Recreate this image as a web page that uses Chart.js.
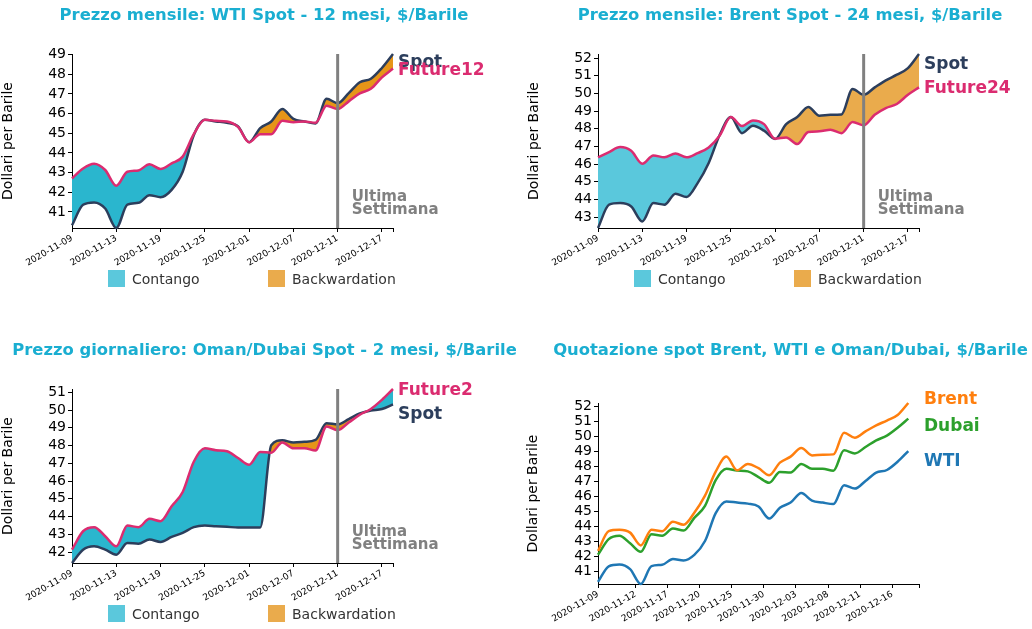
<!DOCTYPE html>
<html>
<head>
<meta charset="utf-8">
<script src="https://cdn.jsdelivr.net/npm/chart.js@4.4.0/dist/chart.umd.min.js"></script>
<style>
  body { margin: 0; background: #fff; width: 1032px; height: 629px; position: relative; overflow: hidden; }
  canvas { position: absolute; }
</style>
</head>
<body>
<canvas id="wti" width="516" height="315" style="left:0;top:0"></canvas>
<canvas id="brent" width="516" height="315" style="left:516px;top:0"></canvas>
<canvas id="oman" width="516" height="315" style="left:0;top:315px"></canvas>
<canvas id="spot" width="516" height="315" style="left:516px;top:315px"></canvas>
<script>
// trading days shown on the x axis
const dates = ['2020-11-09','2020-11-10','2020-11-11','2020-11-12','2020-11-13','2020-11-16','2020-11-17','2020-11-18','2020-11-19','2020-11-20',
  '2020-11-23','2020-11-24','2020-11-25','2020-11-26','2020-11-27','2020-11-30','2020-12-01','2020-12-02','2020-12-03','2020-12-04',
  '2020-12-07','2020-12-08','2020-12-09','2020-12-10','2020-12-11','2020-12-14','2020-12-15','2020-12-16','2020-12-17','2020-12-18'];

// $/barile
const wtiSpot   = [40.32, 41.36, 41.48, 41.17, 40.18, 41.37, 41.46, 41.85, 41.75, 42.12, 43.04, 44.90, 45.68, 45.60, 45.53,
                   45.34, 44.54, 45.26, 45.60, 46.23, 45.73, 45.60, 45.50, 46.75, 46.53, 47.04, 47.59, 47.77, 48.32, 49.03];
const wtiFut12  = [42.70, 43.21, 43.45, 43.13, 42.33, 43.04, 43.11, 43.42, 43.18, 43.47, 43.81, 44.95, 45.68, 45.63, 45.60,
                   45.32, 44.54, 44.95, 44.95, 45.63, 45.56, 45.60, 45.53, 46.40, 46.23, 46.62, 47.03, 47.26, 47.84, 48.29];
const brentSpot = [42.38, 43.70, 43.79, 43.60, 42.75, 43.79, 43.70, 44.32, 44.13, 44.92, 46.06, 47.66, 48.66, 47.75, 48.17,
                   47.89, 47.42, 48.26, 48.66, 49.23, 48.74, 48.79, 48.81, 50.25, 49.92, 50.34, 50.74, 51.06, 51.43, 52.23];
const brentFut24 = [46.38, 46.68, 46.96, 46.75, 46.02, 46.49, 46.38, 46.60, 46.38, 46.62, 46.94, 47.62, 48.66, 48.15, 48.47,
                    48.26, 47.43, 47.51, 47.13, 47.81, 47.85, 47.94, 47.75, 48.38, 48.19, 48.79, 49.17, 49.40, 49.92, 50.34];
const omanSpot  = [41.38, 42.13, 42.32, 42.13, 41.85, 42.51, 42.47, 42.70, 42.57, 42.85, 43.08, 43.40, 43.49, 43.45, 43.42,
                   43.38, 43.38, 43.38, 48.02, 48.30, 48.17, 48.21, 48.32, 49.26, 49.19, 49.49, 49.81, 49.98, 50.06, 50.32];
const omanFut2  = [42.13, 43.17, 43.40, 42.89, 42.32, 43.49, 43.40, 43.87, 43.74, 44.58, 45.38, 47.09, 47.85, 47.74, 47.68,
                   47.30, 46.92, 47.64, 47.60, 48.17, 47.85, 47.85, 47.72, 49.08, 48.87, 49.30, 49.74, 50.06, 50.58, 51.19];

// tick labels (index into dates)
const monthlyTicks = [0, 4, 8, 12, 16, 20, 24, 28];
const spotTicks = [0, 3, 6, 9, 12, 15, 18, 21, 24, 27];
const lastWeek = '2020-12-11';
const legendNames = ['Contango', 'Backwardation'];

const NAVY = '#2c3e5c', PINK = '#db2c70', TITLE = '#1aaed1';
Chart.defaults.font.family = '"DejaVu Sans", sans-serif';

const pts = arr => arr.map((v, i) => ({ x: i, y: v }));

const decor = {
  id: 'decor',
  afterDatasetsDraw(chart, args, o) {
    const { ctx, chartArea: a, scales: { x, y } } = chart;
    ctx.save();
    if (o.vline) {
      const px = x.getPixelForValue(dates.indexOf(o.vline));
      ctx.strokeStyle = '#808080'; ctx.lineWidth = 3;
      ctx.beginPath(); ctx.moveTo(px, a.top); ctx.lineTo(px, a.bottom); ctx.stroke();
      ctx.fillStyle = '#808080'; ctx.font = 'bold 15px "DejaVu Sans"'; ctx.textAlign = 'left';
      ctx.fillText('Ultima', px + 14, a.bottom - 27);
      ctx.fillText('Settimana', px + 14, a.bottom - 14.5);
    }
    ctx.font = 'bold 17px "DejaVu Sans"'; ctx.textAlign = 'left'; ctx.textBaseline = 'alphabetic';
    chart.data.datasets.forEach(ds => {
      const last = ds.data[ds.data.length - 1];
      ctx.fillStyle = ds.borderColor;
      ctx.fillText(ds.label, a.right + 5, y.getPixelForValue(last.y) + ds.tagDy + 6);
    });
    ctx.restore();
  },
  afterDraw(chart, args, o) {
    const { ctx, chartArea: a } = chart;
    ctx.save();
    ctx.font = 'bold 16.4px "DejaVu Sans"'; ctx.fillStyle = TITLE; ctx.textAlign = 'center';
    ctx.fillText(o.title, o.titleX, o.titleY);
    if (o.legend) {
      ctx.font = '14px "DejaVu Sans"'; ctx.textAlign = 'left';
      legendNames.forEach((name, i) => {
        const bx = a.left + [36, 196][i];
        ctx.fillStyle = o.legend[i];
        ctx.fillRect(bx, o.legendY - 8.5, 17, 17);
        ctx.fillStyle = '#333';
        ctx.fillText(name, bx + 24, o.legendY + 5);
      });
    }
    ctx.restore();
  }
};

function makeChart(id, cfg) {
  const W = 516, H = 315;
  const all = cfg.series.flatMap(s => s.values);
  const datasets = cfg.series.map((s, i) => ({
    label: s.label,
    data: pts(s.values),
    borderColor: s.color,
    borderWidth: 2.5,
    pointRadius: 0,
    cubicInterpolationMode: 'monotone',
    clip: false,
    order: s.order ?? i,
    fill: s.fill || false,
    tagDy: s.tagDy
  }));
  return new Chart(document.getElementById(id), {
    type: 'line',
    data: { datasets },
    options: {
      responsive: false,
      animation: false,
      layout: { padding: { left: cfg.padL, right: W - cfg.R, top: cfg.T, bottom: 0 } },
      plugins: {
        legend: { display: false },
        tooltip: { enabled: false },
        decor: { title: cfg.title, titleX: cfg.titleX, titleY: cfg.titleY, vline: cfg.vline,
                 legend: cfg.legend, legendY: cfg.legendY }
      },
      scales: {
        x: {
          type: 'linear', min: 0, max: cfg.xMax,
          afterBuildTicks(s) { s.ticks = cfg.tickPos.map(v => ({ value: v })); },
          ticks: {
            autoSkip: false, minRotation: 30, maxRotation: 30, padding: 1, color: '#000',
            font: { size: 9 },
            callback: (v, k) => cfg.tickLabels[k] || ''
          },
          grid: { drawOnChartArea: false, tickLength: 4, tickColor: '#000' },
          border: { color: '#000' },
          afterFit(s) { s.height = H - cfg.B; }
        },
        y: {
          min: Math.min(...all), max: Math.max(...all),
          afterBuildTicks(s) { s.ticks = s.ticks.filter(t => Number.isInteger(t.value)); },
          ticks: { stepSize: 1, includeBounds: false, autoSkip: false, padding: 2, color: '#000', font: { size: 14 } },
          grid: { drawOnChartArea: false, tickLength: 4, tickColor: '#000' },
          border: { color: '#000' },
          title: { display: true, text: 'Dollari per Barile', color: '#000', font: { size: 14 }, padding: 0 },
          afterFit(s) { s.width = cfg.L - cfg.padL; }
        }
      }
    },
    plugins: [decor]
  });
}

const topTickPos = monthlyTicks.concat([dates.length - 1]);
const topTickLabels = monthlyTicks.map(i => dates[i]);

makeChart('wti', {
  title: 'Prezzo mensile: WTI Spot - 12 mesi, $/Barile', titleX: 264, titleY: 19.5,
  L: 72, R: 393, T: 54, B: 228, padL: 0, xMax: dates.length - 1,
  tickPos: topTickPos, tickLabels: topTickLabels, vline: lastWeek,
  legend: ['#5bc8dc', '#eaab4c'], legendY: 278.5,
  series: [
    { label: 'Spot', values: wtiSpot, color: NAVY, order: 1, tagDy: 7,
      fill: { target: 1, above: '#e69518', below: '#2ab6ce' } },
    { label: 'Future12', values: wtiFut12, color: PINK, order: 0, tagDy: 0 }
  ]
});

makeChart('brent', {
  title: 'Prezzo mensile: Brent Spot - 24 mesi, $/Barile', titleX: 274, titleY: 19.5,
  L: 82, R: 403, T: 54, B: 228, padL: 10, xMax: dates.length - 1,
  tickPos: topTickPos, tickLabels: topTickLabels, vline: lastWeek,
  legend: ['#5bc8dc', '#eaab4c'], legendY: 278.5,
  series: [
    { label: 'Spot', values: brentSpot, color: NAVY, order: 1, tagDy: 9,
      fill: { target: 1, above: '#eaab4c', below: '#5ac8dc' } },
    { label: 'Future24', values: brentFut24, color: PINK, order: 0, tagDy: 0 }
  ]
});

makeChart('oman', {
  title: 'Prezzo giornaliero: Oman/Dubai Spot - 2 mesi, $/Barile', titleX: 264.5, titleY: 39.5,
  L: 72, R: 393, T: 74, B: 248, padL: 0, xMax: dates.length - 1,
  tickPos: topTickPos, tickLabels: topTickLabels, vline: lastWeek,
  legend: ['#5bc8dc', '#eaab4c'], legendY: 298.5,
  series: [
    { label: 'Spot', values: omanSpot, color: NAVY, order: 1, tagDy: 9,
      fill: { target: 1, above: '#e69518', below: '#2ab6ce' } },
    { label: 'Future2', values: omanFut2, color: PINK, order: 0, tagDy: 0 }
  ]
});

makeChart('spot', {
  title: 'Quotazione spot Brent, WTI e Oman/Dubai, $/Barile', titleX: 274.5, titleY: 39.5,
  L: 82, R: 403, T: 88, B: 269, padL: 9, xMax: dates.length,
  tickPos: spotTicks.map(i => i === 0 ? i : i + 0.5).concat([dates.length]),
  tickLabels: spotTicks.map(i => dates[i]),
  series: [
    { label: 'Brent', values: brentSpot, color: '#ff7f0e', tagDy: -5.5 },
    { label: 'Dubai', values: omanFut2, color: '#2ca02c', tagDy: 6 },
    { label: 'WTI', values: wtiSpot, color: '#1f77b4', tagDy: 8.6 }
  ]
});
</script>
</body>
</html>
